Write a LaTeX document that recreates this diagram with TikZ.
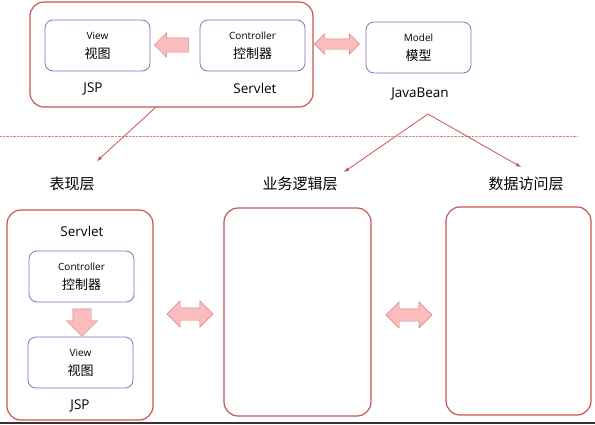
\documentclass[tikz,border=0pt]{standalone}
\usepackage{fontspec}
\setmainfont{Open Sans}
\newfontfamily\cjk{Noto Sans CJK SC}
\usepackage{tikz}
\usetikzlibrary{shapes.arrows}
\usetikzlibrary{arrows.meta}
\definecolor{boxred}{RGB}{200,85,85}
\definecolor{boxpurple}{RGB}{140,110,185}
\definecolor{arrowpink}{RGB}{250,188,188}
\definecolor{arrowedge}{RGB}{215,125,125}
\tikzset{
    layer/.style = {rectangle, rounded corners=14pt, draw=boxred, line width=1.2pt},
    part/.style = {rectangle, rounded corners=8pt, thick, draw=boxpurple, minimum width=105pt, minimum height=51pt, align=center, font=\fontsize{10}{19}\selectfont},
    tag/.style = {font=\fontsize{13.5}{15}\selectfont},
    layername/.style = {font=\cjk\fontsize{15}{17}\selectfont},
    blockl/.style = {single arrow, draw=arrowedge, fill=arrowpink, inner sep=7pt, minimum height=34pt, single arrow head extend=5pt, shape border rotate=180},
    blockd/.style = {single arrow, draw=arrowedge, fill=arrowpink, inner sep=9pt, minimum height=27pt, single arrow head extend=6.5pt, shape border rotate=270},
    blockdd/.style = {double arrow, draw=arrowedge, fill=arrowpink, inner sep=6pt, minimum height=46pt, double arrow head extend=7pt},
    edger/.style = {-latex, thick, boxred},
    sepline/.style = {densely dotted, boxred!70},
}
\newcommand{\zh}[1]{{\cjk\fontsize{13}{19}\selectfont #1}}

\begin{document}
\begin{tikzpicture}[x=1pt,y=-1pt]
\useasboundingbox (0,0) rectangle (595,424);

% MVC on top
\node[layer, minimum width=283pt, minimum height=105pt] at (171.5,54.5) (mvc) {};
\node[part] at (97.5,45.5) (view) {View\\\zh{视图}};
\node[part] at (252.5,45.5) (ctrl) {Controller\\\zh{控制器}};
\node[part] at (418.5,47.5) (model) {Model\\\zh{模型}};
\node[blockl] at (175,45) (c2v) {};
\node[blockdd, inner sep=5pt, minimum height=45pt, double arrow head extend=5pt] at (337,44) (c2m) {};
\node[tag] at (93,89) (jsp) {JSP};
\node[tag] at (255,88) (servlet) {Servlet};
\node[tag] at (420,94) (bean) {JavaBean};

\draw[sepline] (0,136) -- (578,136);

% layers
\node[layername] at (72,184) (pres) {表现层};
\node[layername] at (300,184) (biz) {业务逻辑层};
\node[layername] at (526,184) (dao) {数据访问层};
\coordinate (mvcfoot) at (156,107);
\coordinate (beanfoot) at (428,114);
\coordinate (presin) at (97,161);
\coordinate (bizin) at (344,172);
\coordinate (daoin) at (521,167);
%
\draw[edger] (mvcfoot) -- (presin);
\draw[edger] (beanfoot) -- (bizin);
\draw[edger] (beanfoot) -- (daoin);

% bottom
\node[layer, minimum width=146pt, minimum height=210pt] at (80,315) (presbox) {};
\node[layer, minimum width=147pt, minimum height=208pt] at (297.5,312) (bizbox) {};
\node[layer, minimum width=145pt, minimum height=208pt] at (518.5,311) (daobox) {};
\node[tag] at (82,231) (servlet2) {Servlet};
\node[part] at (81.5,276.5) (ctrl2) {Controller\\\zh{控制器}};
\node[blockd] at (82,318) (c2v2) {};
\node[part] at (80.5,362.5) (view2) {View\\\zh{视图}};
\node[tag] at (80,406) (jsp2) {JSP};
\node[blockdd] at (190,314) (p2b) {};
\node[blockdd] at (409,315) (b2d) {};

\draw[line width=1.5pt, black!80] (0,423.2) -- (595,423.2);

\end{tikzpicture}
\end{document}
